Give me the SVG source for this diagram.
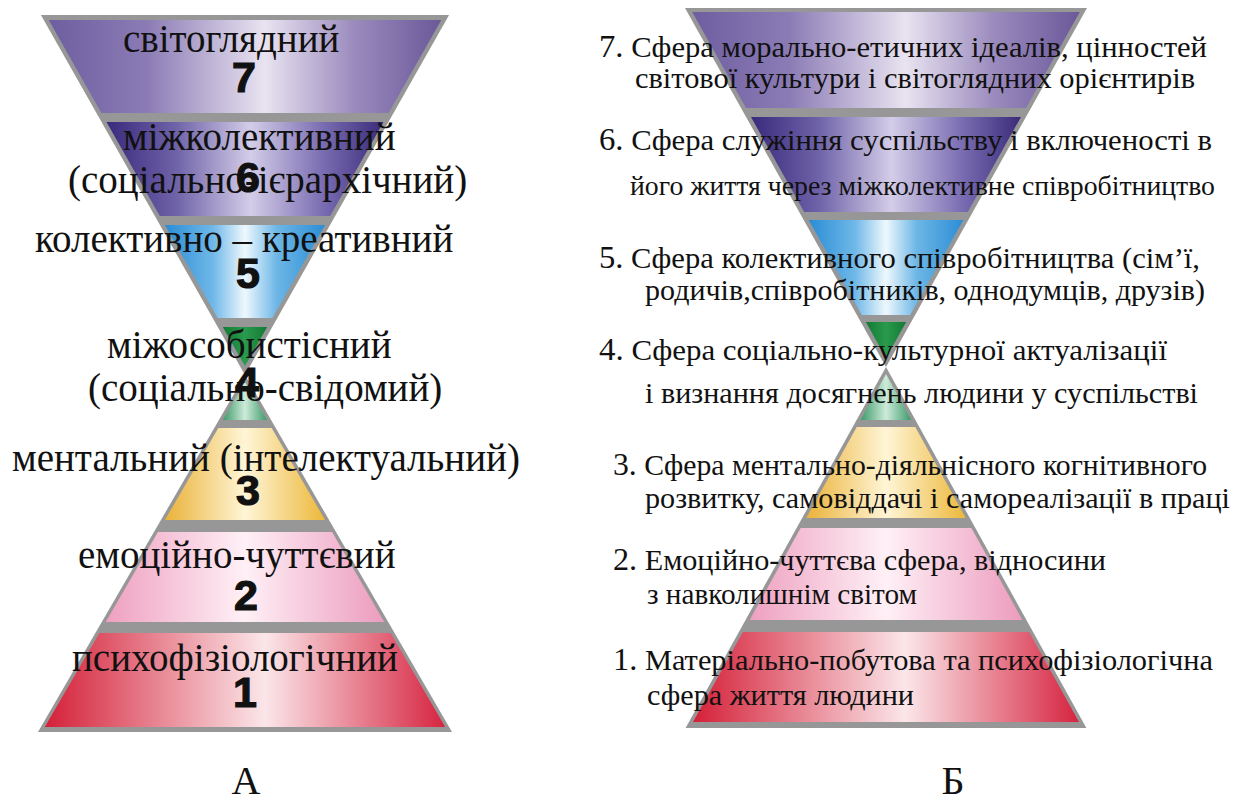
<svg xmlns="http://www.w3.org/2000/svg" width="1245" height="803" viewBox="0 0 1245 803">
<defs>
<linearGradient id="g7" x1="0" y1="0" x2="1" y2="0"><stop offset="0" stop-color="#6e5ea0"/><stop offset="0.25" stop-color="#8b7bb5"/><stop offset="0.55" stop-color="#e9e3f1"/><stop offset="0.78" stop-color="#9a8abd"/><stop offset="1" stop-color="#6a5899"/></linearGradient>
<linearGradient id="g6" x1="0" y1="0" x2="1" y2="0"><stop offset="0" stop-color="#3a2a7c"/><stop offset="0.25" stop-color="#6e62a8"/><stop offset="0.52" stop-color="#d4cde8"/><stop offset="0.78" stop-color="#7a6db2"/><stop offset="1" stop-color="#3b2b7a"/></linearGradient>
<linearGradient id="g5" x1="0" y1="0" x2="1" y2="0"><stop offset="0" stop-color="#2a8cd4"/><stop offset="0.3" stop-color="#6fb8e8"/><stop offset="0.5" stop-color="#eef8fd"/><stop offset="0.7" stop-color="#6cb6e6"/><stop offset="1" stop-color="#2c8dd5"/></linearGradient>
<linearGradient id="g4a" x1="0" y1="0" x2="1" y2="0"><stop offset="0" stop-color="#137a35"/><stop offset="0.5" stop-color="#2a9a4c"/><stop offset="1" stop-color="#137a35"/></linearGradient>
<linearGradient id="g4b" x1="0" y1="0" x2="1" y2="0"><stop offset="0" stop-color="#3d9a6a"/><stop offset="0.5" stop-color="#cdebd9"/><stop offset="1" stop-color="#3d9a6a"/></linearGradient>
<linearGradient id="g3" x1="0" y1="0" x2="1" y2="0"><stop offset="0" stop-color="#eab238"/><stop offset="0.5" stop-color="#fff5d6"/><stop offset="1" stop-color="#ecb83a"/></linearGradient>
<linearGradient id="g2" x1="0" y1="0" x2="1" y2="0"><stop offset="0" stop-color="#eea0c0"/><stop offset="0.5" stop-color="#fff0f6"/><stop offset="1" stop-color="#ec9cbe"/></linearGradient>
<linearGradient id="g1" x1="0" y1="0" x2="1" y2="0"><stop offset="0" stop-color="#d42038"/><stop offset="0.55" stop-color="#fbe6e9"/><stop offset="1" stop-color="#d62440"/></linearGradient>
</defs>
<style>
.frame{fill:#979797}
.lblA{font-family:"Liberation Serif","Times New Roman",serif;font-size:39px;fill:#111}
.num{font-family:"Liberation Sans",Arial,sans-serif;font-weight:bold;font-size:43px;fill:#111;stroke:#111;stroke-width:1.2;text-anchor:middle}
.lblB{font-family:"Liberation Serif","Times New Roman",serif;font-size:30px;fill:#111}
.sm{font-size:28px}
.nb{font-size:32px}
.cap{font-family:"Liberation Serif","Times New Roman",serif;font-size:40px;fill:#111;text-anchor:middle}
</style>
<rect width="1245" height="803" fill="#ffffff"/>

<g id="hourglass-A-frame">
<polygon class="frame" points="40.9,15 449.1,15 245,375"/>
<polygon class="frame" points="38,732 452,732 245,375"/>
</g>
<g id="hourglass-B-frame">
<polygon class="frame" points="685,8 1087,8 886,367"/>
<polygon class="frame" points="685.6,728 1086.4,728 886,367"/>
</g>

<g id="A7"><polygon fill="url(#g7)" points="48.7,20 441.3,20 388.6,113 101.4,113"/></g>
<g id="A6"><polygon fill="url(#g6)" points="106.5,122 383.5,122 330.2,216 159.8,216"/></g>
<g id="A5"><polygon fill="url(#g5)" points="164.9,225 325.1,225 272.3,318 217.7,318"/></g>
<g id="A4"><polygon fill="url(#g4a)" points="222.8,327 267.2,327 245,366"/><polygon fill="url(#g4b)" points="245,382 267.1,420 222.9,420"/></g>
<g id="A3"><polygon fill="url(#g3)" points="218.3,428 271.7,428 325.1,520 164.9,520"/></g>
<g id="A2"><polygon fill="url(#g2)" points="157.9,532 332.1,532 384.3,622 105.7,622"/></g>
<g id="A1"><polygon fill="url(#g1)" points="99.4,633 390.6,633 445.2,727 44.8,727"/></g>

<g id="B7"><polygon fill="url(#g7)" points="692.2,12 1079.8,12 1026,108 746,108"/></g>
<g id="B6"><polygon fill="url(#g6)" points="751,117 1021,117 967.8,212 804.2,212"/></g>
<g id="B5"><polygon fill="url(#g5)" points="808.7,220 963.3,220 910.1,315 861.9,315"/></g>
<g id="B4"><polygon fill="url(#g4a)" points="865.8,322 906.2,322 886,358"/><polygon fill="url(#g4b)" points="886,374 911.4,420 860.6,420"/></g>
<g id="B3"><polygon fill="url(#g3)" points="856.7,427 915.3,427 965.8,518 806.2,518"/></g>
<g id="B2"><polygon fill="url(#g2)" points="800.6,528 971.4,528 1022.4,620 749.6,620"/></g>
<g id="B1"><polygon fill="url(#g1)" points="742.9,632 1029.1,632 1079,722 693,722"/></g>

<g id="labels-A">
<text class="num" x="244" y="92">7</text>
<text class="num" x="248" y="192">6</text>
<text class="num" x="248" y="288">5</text>
<text class="num" x="247" y="397">4</text>
<text class="num" x="248" y="505">3</text>
<text class="num" x="246" y="610">2</text>
<text class="num" x="245" y="707">1</text>
<text class="lblA" x="123" y="52">світоглядний</text>
<text class="lblA" x="123" y="150">міжколективний</text>
<text class="lblA" x="68" y="193">(соціально-ієрархічний)</text>
<text class="lblA" x="35" y="252">колективно – креативний</text>
<text class="lblA" x="107" y="358">міжособистісний</text>
<text class="lblA" x="88" y="401">(соціально-свідомий)</text>
<text class="lblA" x="12" y="471">ментальний (інтелектуальний)</text>
<text class="lblA" x="78" y="568">емоційно-чуттєвий</text>
<text class="lblA" x="72" y="671">психофізіологічний</text>
</g>

<g id="labels-B">
<text class="lblB" x="599" y="57" textLength="608" lengthAdjust="spacingAndGlyphs"><tspan class="nb">7.</tspan> Сфера морально-етичних ідеалів, цінностей</text>
<text class="lblB" x="635" y="88" textLength="560" lengthAdjust="spacingAndGlyphs">світової культури і світоглядних орієнтирів</text>
<text class="lblB" x="599" y="150" textLength="613" lengthAdjust="spacingAndGlyphs"><tspan class="nb">6.</tspan> Сфера служіння суспільству і включеності в</text>
<text class="lblB sm" x="630" y="195" textLength="585" lengthAdjust="spacingAndGlyphs">його життя через міжколективне співробітництво</text>
<text class="lblB" x="599" y="268" textLength="601" lengthAdjust="spacingAndGlyphs"><tspan class="nb">5.</tspan> Сфера колективного співробітництва (сім’ї,</text>
<text class="lblB" x="645" y="300" textLength="560" lengthAdjust="spacingAndGlyphs">родичів,співробітників, однодумців, друзів)</text>
<text class="lblB" x="599" y="360" textLength="568" lengthAdjust="spacingAndGlyphs"><tspan class="nb">4.</tspan> Сфера соціально-культурної актуалізації</text>
<text class="lblB" x="645" y="403" textLength="553" lengthAdjust="spacingAndGlyphs">і визнання досягнень людини у суспільстві</text>
<text class="lblB" x="613" y="475" textLength="594" lengthAdjust="spacingAndGlyphs"><tspan class="nb">3.</tspan> Сфера ментально-діяльнісного когнітивного</text>
<text class="lblB" x="645" y="508" textLength="585" lengthAdjust="spacingAndGlyphs">розвитку, самовіддачі і самореалізації в праці</text>
<text class="lblB" x="613" y="570" textLength="493" lengthAdjust="spacingAndGlyphs"><tspan class="nb">2.</tspan> Емоційно-чуттєва сфера, відносини</text>
<text class="lblB" x="647" y="604" textLength="270" lengthAdjust="spacingAndGlyphs">з навколишнім світом</text>
<text class="lblB" x="613" y="670" textLength="600" lengthAdjust="spacingAndGlyphs"><tspan class="nb">1.</tspan> Матеріально-побутова та психофізіологічна</text>
<text class="lblB" x="647" y="705" textLength="267" lengthAdjust="spacingAndGlyphs">сфера життя людини</text>
</g>

<g id="captions">
<text class="cap" x="246" y="794">А</text>
<text class="cap" x="953" y="794">Б</text>
</g>
<g id="connectors"/>
</svg>
